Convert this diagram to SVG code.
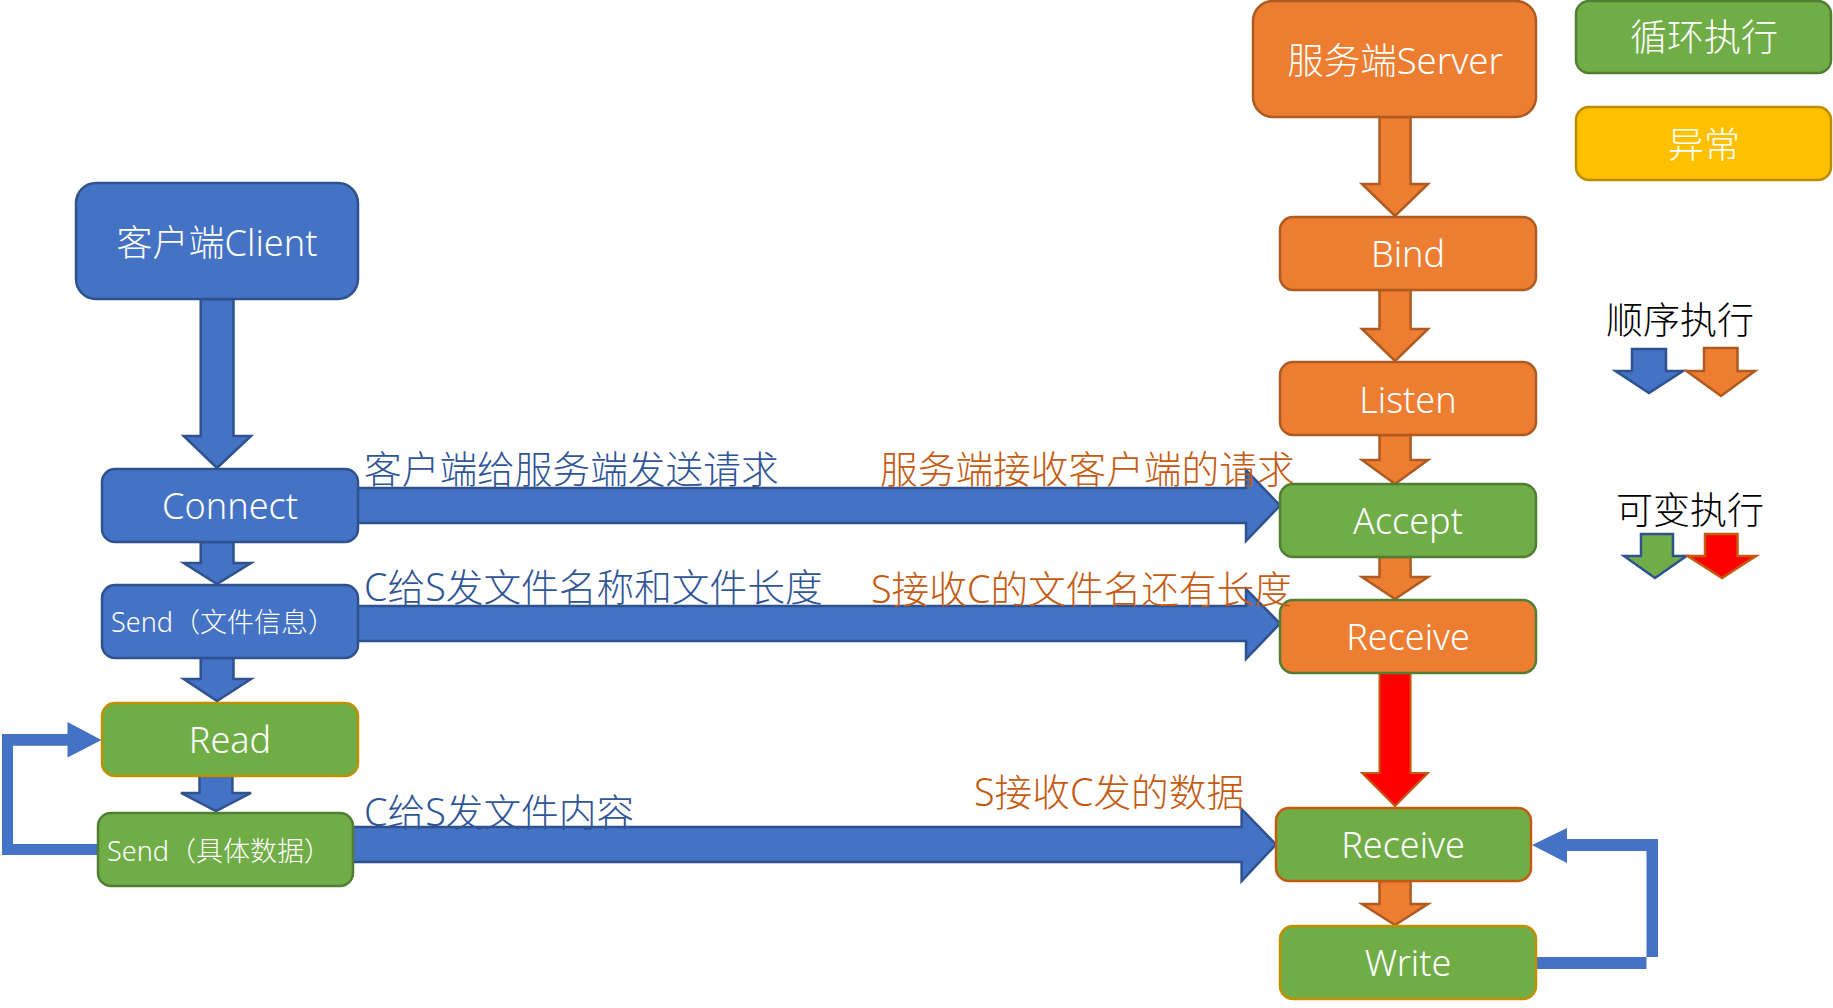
<svg xmlns="http://www.w3.org/2000/svg" width="1833" height="1008" viewBox="0 0 1833 1008">
<style>
text{font-family:"Noto Sans","Noto Sans CJK SC",sans-serif;font-weight:300}
.nt{fill:#fff;font-size:36px;text-anchor:middle}
.st{fill:#fff;font-size:27px}
.blue{fill:#4472C4;stroke:#2F528F;stroke-width:2.5}
.orange{fill:#ED7D31;stroke:#AE5A21;stroke-width:2.5}
.green{fill:#70AD47;stroke:#507E32;stroke-width:2.5}
.gold{stroke:#BF9000}
.yellow{fill:#FFC000;stroke:#BC8C00;stroke-width:2.5}
.lb{fill:#2F5597;font-size:37.7px}
.lo{fill:#C55A11;font-size:37.7px}
.lk{fill:#000;font-size:37px;text-anchor:middle}
</style>
<rect width="1833" height="1008" fill="#fff"/>
<g id="connectors">
<polygon class="blue" points="200.7,299 233.5,299 233.5,436 251,436 217,468 183.7,436 200.7,436"/>
<polygon class="blue" points="200.7,542 233.5,542 233.5,563 251,563 217,584 183.7,563 200.7,563"/>
<polygon class="blue" points="200.7,658 233.5,658 233.5,679 251,679 217,701 183.7,679 200.7,679"/>
<polygon class="blue" points="199.5,776 232.4,776 232.4,793 251,793 216,811 181,793 199.5,793"/>
<polygon fill="#4472C4" points="98,855 2,855 2,734 67.5,734 67.5,722 101.5,740 67.5,757.5 67.5,745.7 13,745.7 13,844 98,844"/>
<polygon class="blue" points="357,488 1246,488 1246,470 1280,505.5 1246,541 1246,523 357,523"/>
<polygon class="blue" points="357,606 1246,606 1246,589 1280,623.5 1246,659 1246,641 357,641"/>
<polygon class="blue" points="352,827 1241.6,827 1241.6,809 1276,844.5 1241.6,881 1241.6,862 352,862"/>
<polygon class="orange" points="1379.5,117 1410.6,117 1410.6,184 1428,184 1395,216 1362,184 1379.5,184"/>
<polygon class="orange" points="1379.5,290 1410.6,290 1410.6,329 1428,329 1395,361 1362,329 1379.5,329"/>
<polygon class="orange" points="1379.5,435 1410.6,435 1410.6,460 1428,460 1395,484 1362,460 1379.5,460"/>
<polygon class="orange" points="1379.5,557 1410.6,557 1410.6,577 1428,577 1395,599 1362,577 1379.5,577"/>
<polygon fill="#FF0000" stroke="#C55A11" stroke-width="2" points="1379.5,673 1410.6,673 1410.6,773 1428,773 1395,806 1362,773 1379.5,773"/>
<polygon class="orange" points="1379.5,881 1410.6,881 1410.6,904 1428,904 1395,925 1362,904 1379.5,904"/>
<polygon fill="#4472C4" points="1536,957 1658,957 1658,839 1567,839 1567,828 1532,845 1567,863 1567,851 1646.5,851 1646.5,969 1536,969"/>
</g>
<g id="client"><rect class="blue" x="76" y="183" width="282" height="116" rx="20"/><text class="nt" x="217" y="256">客户端Client</text></g>
<g id="connect"><rect class="blue" x="102" y="469" width="256" height="73" rx="13"/><text class="nt" x="230" y="519">Connect</text></g>
<g id="send1"><rect class="blue" x="102" y="585" width="256" height="73" rx="13"/><text class="st" x="111" y="632">Send（文件信息）</text></g>
<g id="read"><rect class="green gold" x="102" y="703" width="256" height="73" rx="13"/><text class="nt" x="230" y="753">Read</text></g>
<g id="send2"><rect class="green" x="98" y="813" width="255" height="73" rx="13"/><text class="st" x="107" y="861">Send（具体数据）</text></g>
<g id="server"><rect class="orange" x="1253" y="1" width="283" height="116" rx="20"/><text class="nt" x="1395" y="74" style="font-size:36.5px">服务端Server</text></g>
<g id="bind"><rect class="orange" x="1280" y="217" width="256" height="73" rx="13"/><text class="nt" x="1408" y="267">Bind</text></g>
<g id="listen"><rect class="orange" x="1280" y="362" width="256" height="73" rx="13"/><text class="nt" x="1408" y="413">Listen</text></g>
<g id="accept"><rect class="green" x="1280" y="484" width="256" height="73" rx="13"/><text class="nt" x="1408" y="534">Accept</text></g>
<g id="receive1"><rect class="orange" style="stroke:#507E32" x="1280" y="600" width="256" height="73" rx="13"/><text class="nt" x="1408" y="650">Receive</text></g>
<g id="receive2"><rect class="green" style="stroke:#C55A11" x="1276" y="808" width="255" height="73" rx="13"/><text class="nt" x="1403" y="858">Receive</text></g>
<g id="write"><rect class="green gold" x="1280" y="926" width="256" height="73" rx="13"/><text class="nt" x="1408" y="976">Write</text></g>
<g id="legend-loop"><rect class="green" x="1576" y="1" width="255" height="72" rx="13"/><text class="nt" x="1704" y="51" style="font-size:37px">循环执行</text></g>
<g id="legend-error"><rect class="yellow" x="1576" y="107" width="255" height="73" rx="13"/><text class="nt" x="1704" y="158">异常</text></g>
<g id="legend-seq">
<text class="lk" x="1680" y="334">顺序执行</text>
<polygon class="blue" points="1632,349 1666,349 1666,371 1683,371 1649,393 1615.5,371 1632,371"/>
<polygon class="orange" points="1704,348 1737.5,348 1737.5,371 1755,371 1721,396 1686.5,371 1704,371"/>
</g>
<g id="legend-var">
<text class="lk" x="1690" y="524">可变执行</text>
<polygon fill="#70AD47" stroke="#2F528F" stroke-width="2.5" points="1641,534 1673,534 1673,556 1686.5,556 1655,578 1624,556 1641,556"/>
<polygon fill="#FF0000" stroke="#C55A11" stroke-width="2.5" points="1705,534 1737.5,534 1737.5,556 1756,556 1722,578 1687.6,556 1705,556"/>
</g>
<g id="labels">
<text class="lb" x="364" y="483">客户端给服务端发送请求</text>
<text class="lo" x="880" y="483">服务端接收客户端的请求</text>
<text class="lb" x="364" y="601">C给S发文件名称和文件长度</text>
<text class="lo" x="871" y="603">S接收C的文件名还有长度</text>
<text class="lb" x="364" y="826">C给S发文件内容</text>
<text class="lo" x="974" y="806">S接收C发的数据</text>
</g>
</svg>
